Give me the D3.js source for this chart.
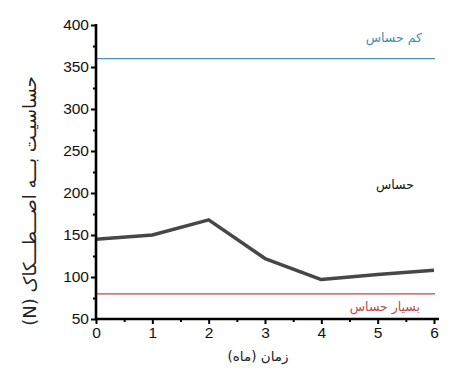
<!DOCTYPE html>
<html>
<head>
<meta charset="utf-8">
<script src="https://cdn.jsdelivr.net/npm/d3@7"></script>
<style>
  body { margin: 0; background: #fff; }
  text { font-family: "Liberation Sans", Arial, sans-serif; }
</style>
</head>
<body>
<div id="chart"></div>
<script>
    // data
    var months = [0, 1, 2, 3, 4, 5, 6];
    var friction = [145, 150, 168, 122, 97, 103, 108];
    var xTicks = [0, 1, 2, 3, 4, 5, 6];
    var yTicks = [50, 100, 150, 200, 250, 300, 350, 400];
    var lowLimit = 360;   // کم حساس
    var highLimit = 80;   // بسیار حساس

    var svgWidth = 456;
    var svgHeight = 383;
    var margin = { top: 25, bottom: 64, right: 22, left: 96 };
    var width = svgWidth - margin.left - margin.right;
    var height = svgHeight - margin.top - margin.bottom;

    var svg = d3.select("#chart").append("svg")
        .attr("width", svgWidth)
        .attr("height", svgHeight);

    var chartGroup = svg.append("g")
        .attr("transform", `translate(${margin.left}, ${margin.top})`);

    var xScale = d3.scaleLinear().domain([0, 6]).range([0, 338]);
    var yScale = d3.scaleLinear().domain([50, 400]).range([height, 0]);

    // threshold lines
    chartGroup.append("line")
        .attr("x1", 0).attr("x2", 339)
        .attr("y1", yScale(lowLimit)).attr("y2", yScale(lowLimit))
        .attr("stroke", "#4a8fc4").attr("stroke-width", 1.3);
    chartGroup.append("line")
        .attr("x1", 0).attr("x2", 339)
        .attr("y1", yScale(highLimit)).attr("y2", yScale(highLimit))
        .attr("stroke", "#c0474a").attr("stroke-width", 1.3);

    // data line
    var line = d3.line()
        .x((d, i) => xScale(months[i]))
        .y(d => yScale(d));
    chartGroup.append("path")
        .datum(friction)
        .attr("d", line)
        .attr("fill", "none")
        .attr("stroke", "#474747")
        .attr("stroke-width", 3.5)
        .attr("stroke-linejoin", "round");

    // minor ticks
    var xMinor = chartGroup.append("g")
        .attr("transform", `translate(0, ${height})`)
        .call(d3.axisBottom(xScale).tickValues(d3.range(0.5, 6, 1)).tickSize(3).tickFormat(""));
    var yMinor = chartGroup.append("g")
        .call(d3.axisLeft(yScale).tickValues(d3.range(75, 400, 50)).tickSize(3).tickFormat(""));

    // major axes
    var xAxis = chartGroup.append("g")
        .attr("transform", `translate(0, ${height})`)
        .call(d3.axisBottom(xScale).tickValues(xTicks).tickSize(5).tickPadding(3).tickFormat(d3.format("d")));
    var yAxis = chartGroup.append("g")
        .call(d3.axisLeft(yScale).tickValues(yTicks).tickSize(5).tickPadding(2).tickFormat(d3.format("d")));

    [xMinor, yMinor, xAxis, yAxis].forEach(function(ax) {
        ax.select(".domain").remove();
        ax.selectAll(".tick line").attr("stroke", "#000").attr("stroke-width", 2);
    });
    [xAxis, yAxis].forEach(function(ax) {
        ax.selectAll(".tick text")
            .attr("fill", "#111")
            .style("font-size", "15.5px")
            .style("font-family", "'Liberation Sans', Arial, sans-serif");
    });

    // axis lines
    chartGroup.append("line")
        .attr("x1", 0).attr("x2", 343)
        .attr("y1", height).attr("y2", height)
        .attr("stroke", "#000").attr("stroke-width", 2.6);
    chartGroup.append("line")
        .attr("x1", 0).attr("x2", 0)
        .attr("y1", -1).attr("y2", height + 1.3)
        .attr("stroke", "#000").attr("stroke-width", 2.6);

    // region labels
    chartGroup.append("text")
        .attr("x", 326).attr("y", yScale(lowLimit) - 17)
        .attr("text-anchor", "end")
        .attr("fill", "#3a8fb0")
        .style("font-family", "'DejaVu Sans', sans-serif")
        .style("font-size", "12.5px")
        .text("کم حساس");
    chartGroup.append("text")
        .attr("x", 318).attr("y", 164)
        .attr("text-anchor", "end")
        .attr("fill", "#111")
        .style("font-family", "'DejaVu Sans', sans-serif")
        .style("font-size", "12.5px")
        .text("حساس");
    chartGroup.append("text")
        .attr("x", 324).attr("y", yScale(highLimit) + 17)
        .attr("text-anchor", "end")
        .attr("fill", "#c0474a")
        .style("font-family", "'DejaVu Sans', sans-serif")
        .style("font-size", "12.5px")
        .text("بسیار حساس");

    // axis titles
    svg.append("text")
        .attr("transform", `translate(36, 201) rotate(-90)`)
        .attr("text-anchor", "middle")
        .attr("direction", "rtl")
        .attr("fill", "#222")
        .style("font-family", "'DejaVu Sans', sans-serif")
        .style("font-size", "18px")
        .text("حساسیـت بـــه اصـــطـــکاک (N)");
    svg.append("text")
        .attr("x", 258).attr("y", 361)
        .attr("text-anchor", "middle")
        .attr("direction", "rtl")
        .attr("fill", "#222")
        .style("font-family", "'DejaVu Sans', sans-serif")
        .style("font-size", "13.5px")
        .text("زمان (ماه)");
</script>
</body>
</html>
